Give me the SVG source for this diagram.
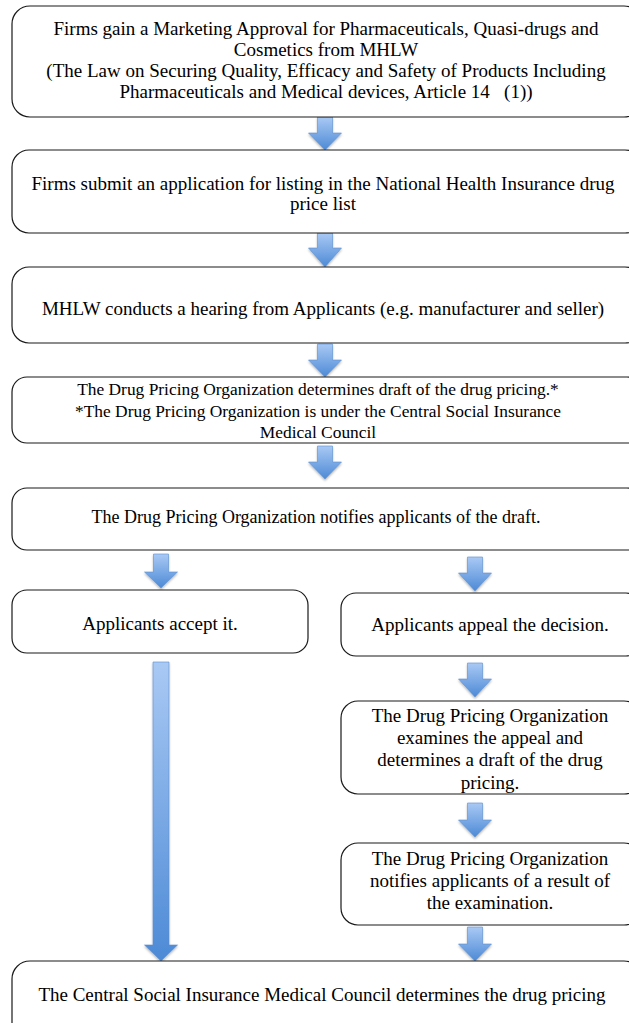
<svg xmlns="http://www.w3.org/2000/svg" width="629" height="1023" viewBox="0 0 629 1023">
<defs>
<linearGradient id="ag" x1="0" y1="0" x2="0" y2="1">
<stop offset="0" stop-color="#a9c9f4"/>
<stop offset="1" stop-color="#4d8ad6"/>
</linearGradient>
<filter id="sh" x="-30%" y="-10%" width="160%" height="130%">
<feDropShadow dx="0" dy="1.5" stdDeviation="1.2" flood-color="#000" flood-opacity="0.3"/>
</filter>
<style>
.box{fill:#fff;stroke:#1a1a1a;stroke-width:1.2}
.arr{fill:url(#ag);stroke:#5a8fd2;stroke-width:0.6;filter:url(#sh)}
.t19{font-size:19px}
.t18{font-size:18px}
.t17{font-size:17.4px}
</style>
</defs>
<rect width="629" height="1023" fill="#fff"/>
<g id="connectors">
<path class="arr" d="M317.5,117 H332.5 V133 H341.5 L325,150 L308.5,133 H317.5 Z"/>
<path class="arr" d="M317.5,233 H332.5 V248 H341.5 L325,267 L308.5,248 H317.5 Z"/>
<path class="arr" d="M317.5,344 H332.5 V360 H341.5 L325,377 L308.5,360 H317.5 Z"/>
<path class="arr" d="M317.5,446 H332.5 V462 H341.5 L325,479 L308.5,462 H317.5 Z"/>
<path class="arr" d="M153.5,554 H168.5 V572 H177.5 L161,588 L144.5,572 H153.5 Z"/>
<path class="arr" d="M467.5,557 H482.5 V573 H491.5 L475,591 L458.5,573 H467.5 Z"/>
<path class="arr" d="M467.5,663 H482.5 V679 H491.5 L475,697 L458.5,679 H467.5 Z"/>
<path class="arr" d="M467.5,803 H482.5 V820 H491.5 L475,837 L458.5,820 H467.5 Z"/>
<path class="arr" d="M467.5,927 H482.5 V944 H491.5 L475,961 L458.5,944 H467.5 Z"/>
<path class="arr" d="M153,662 H169 V945 H177.5 L161,961 L144.5,945 H153 Z"/>
</g>
<g font-family="'Liberation Serif', 'Times New Roman', serif" fill="#000" text-anchor="middle">
<g id="n1">
<rect class="box" x="12" y="6" width="630" height="111" rx="18"/>
<text class="t19"><tspan x="326" y="35">Firms gain a Marketing Approval for Pharmaceuticals, Quasi-drugs and</tspan><tspan x="326" y="56">Cosmetics from MHLW</tspan><tspan x="326" y="77">(The Law on Securing Quality, Efficacy and Safety of Products Including</tspan><tspan x="326" y="98">Pharmaceuticals and Medical devices, Article 14 &#160; (1))</tspan></text>
</g>
<g id="n2">
<rect class="box" x="12" y="150" width="630" height="83" rx="17"/>
<text class="t19"><tspan x="323" y="190">Firms submit an application for listing in the National Health Insurance drug</tspan><tspan x="323" y="210">price list</tspan></text>
</g>
<g id="n3">
<rect class="box" x="12" y="267" width="630" height="76" rx="17"/>
<text class="t19" x="323" y="315">MHLW conducts a hearing from Applicants (e.g. manufacturer and seller)</text>
</g>
<g id="n4">
<rect class="box" x="12" y="377" width="630" height="66" rx="15"/>
<text class="t17"><tspan x="318" y="395">The Drug Pricing Organization determines draft of the drug pricing.*</tspan><tspan x="318" y="416.5">*The Drug Pricing Organization is under the Central Social Insurance</tspan><tspan x="318" y="438">Medical Council</tspan></text>
</g>
<g id="n5">
<rect class="box" x="12" y="488" width="630" height="62" rx="15"/>
<text class="t18" x="316" y="523">The Drug Pricing Organization notifies applicants of the draft.</text>
</g>
<g id="n6">
<rect class="box" x="12" y="590" width="296" height="63" rx="15"/>
<text class="t19" x="160" y="630">Applicants accept it.</text>
</g>
<g id="n7">
<rect class="box" x="341" y="593" width="300" height="63" rx="15"/>
<text class="t19" x="490" y="631">Applicants appeal the decision.</text>
</g>
<g id="n8">
<rect class="box" x="341" y="701" width="300" height="93" rx="17"/>
<text class="t19"><tspan x="490" y="722">The Drug Pricing Organization</tspan><tspan x="490" y="744">examines the appeal and</tspan><tspan x="490" y="766">determines a draft of the drug</tspan><tspan x="490" y="789">pricing.</tspan></text>
</g>
<g id="n9">
<rect class="box" x="341" y="843" width="300" height="82" rx="17"/>
<text class="t19"><tspan x="490" y="865">The Drug Pricing Organization</tspan><tspan x="490" y="887">notifies applicants of a result of</tspan><tspan x="490" y="909">the examination.</tspan></text>
</g>
<g id="n10">
<rect class="box" x="12" y="961" width="630" height="80" rx="18"/>
<text class="t19" x="322" y="1001">The Central Social Insurance Medical Council determines the drug pricing</text>
</g>
</g>
</svg>
